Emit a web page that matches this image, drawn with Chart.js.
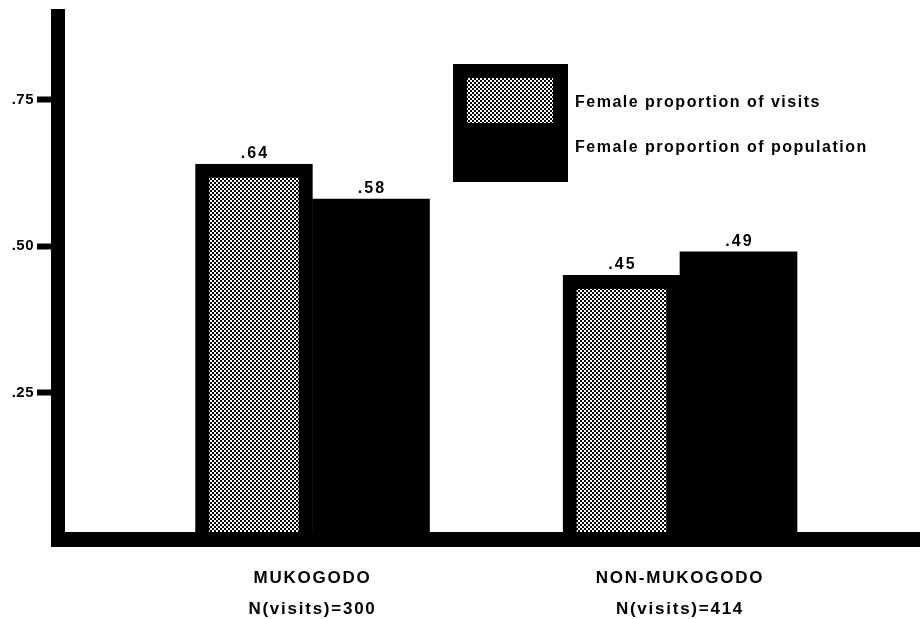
<!DOCTYPE html>
<html>
<head>
<meta charset="utf-8">
<script src="https://cdn.jsdelivr.net/npm/chart.js@4/dist/chart.umd.min.js"></script>
<style>
  html, body { margin: 0; padding: 0; background: #ffffff; }
  #wrap { width: 920px; height: 619px; position: relative; }
  canvas { display: block; }
</style>
</head>
<body>
<div id="wrap"><canvas id="chart" width="920" height="619"></canvas></div>
<script>
// ---- data ----
const categories = ['MUKOGODO', 'NON-MUKOGODO'];
const visitCounts = [300, 414];
const seriesNames = ['Female proportion of visits', 'Female proportion of population'];
const femaleVisits = [0.64, 0.45];
const femalePopulation = [0.58, 0.49];
const yTickValues = [0.25, 0.50, 0.75];

// ---- styling helpers ----
const FONT = "'Liberation Sans', Arial, Helvetica, sans-serif";

function makeStipple() {
  const c = document.createElement('canvas');
  c.width = 4; c.height = 4;
  const g = c.getContext('2d');
  g.fillStyle = '#ffffff'; g.fillRect(0, 0, 4, 4);
  g.fillStyle = '#000000'; g.fillRect(0, 0, 2, 2); g.fillRect(2, 2, 2, 2);
  return g.createPattern(c, 'repeat');
}
const stipple = makeStipple();

function fmt(v) { return v.toFixed(2).replace(/^0/, ''); }

const toPoints = (arr) => arr.map((v, i) => ({ x: i, y: v }));

const decorPlugin = {
  id: 'decor',
  beforeDraw(chart) {
    chart.ctx.letterSpacing = '0.5px';
  },
  afterDatasetsDraw(chart) {
    const ctx = chart.ctx;
    ctx.save();
    // value labels above bars
    ctx.letterSpacing = '2px';
    ctx.fillStyle = '#000';
    ctx.font = 'bold 16px ' + FONT;
    ctx.textAlign = 'center';
    ctx.textBaseline = 'middle';
    chart.data.datasets.forEach((ds, di) => {
      const meta = chart.getDatasetMeta(di);
      meta.data.forEach((el, i) => {
        ctx.fillText(fmt(ds.data[i].y), el.x + 1, el.y - 10.5);
      });
    });
    // combined legend box
    ctx.fillStyle = '#000';
    ctx.fillRect(453, 64, 115, 118);
    ctx.fillStyle = stipple;
    ctx.fillRect(467, 78, 86, 45);
    ctx.fillStyle = '#000';
    ctx.letterSpacing = '1.5px';
    ctx.font = 'bold 16px ' + FONT;
    ctx.textAlign = 'left';
    ctx.fillText(chart.data.datasets[0].label, 575, 103);
    ctx.fillText(chart.data.datasets[1].label, 575, 148);
    ctx.restore();
    // spacing for the category labels drawn after the datasets
    ctx.letterSpacing = '1.75px';
  },
  afterDraw(chart) {
    chart.ctx.letterSpacing = '0px';
  }
};

new Chart(document.getElementById('chart'), {
  type: 'bar',
  data: {
    datasets: [
      {
        label: seriesNames[0],
        data: toPoints(femaleVisits),
        backgroundColor: stipple,
        borderColor: '#000',
        borderWidth: 14,
        borderSkipped: 'start',
        barThickness: 117
      },
      {
        label: seriesNames[1],
        data: toPoints(femalePopulation),
        backgroundColor: '#000',
        borderWidth: 0,
        barThickness: 117
      }
    ]
  },
  options: {
    responsive: false,
    animation: false,
    devicePixelRatio: 1,
    layout: { padding: { top: 16, left: 0, right: 0, bottom: 0 } },
    plugins: { legend: { display: false }, tooltip: { enabled: false } },
    scales: {
      x: {
        type: 'linear',
        offset: false,
        min: -0.6925,
        max: 1.6531,
        grid: { display: false, drawTicks: false },
        border: { display: true, color: '#000', width: 15, z: 1 },
        afterBuildTicks: (ax) => { ax.ticks = categories.map((_, i) => ({ value: i })); },
        afterFit: (ax) => { ax.height = 80; },
        ticks: {
          z: 2,
          autoSkip: false,
          maxRotation: 0,
          padding: 24,
          color: '#000',
          font: { family: FONT, weight: 'bold', size: 17, lineHeight: 31 / 17 },
          callback: (v) => [categories[v], 'N(visits)=' + visitCounts[v]]
        }
      },
      y: {
        min: 0,
        max: 0.8925,
        grid: {
          display: true,
          drawOnChartArea: false,
          drawTicks: true,
          tickLength: 21,
          tickWidth: 6,
          tickColor: '#000',
          color: '#000',
          lineWidth: 1
        },
        border: { display: true, color: '#000', width: 14, z: 1 },
        afterBuildTicks: (ax) => { ax.ticks = yTickValues.map((v) => ({ value: v })); },
        afterFit: (ax) => { ax.width = 58; },
        ticks: {
          padding: 3,
          color: '#000',
          font: { family: FONT, weight: 'bold', size: 15 },
          callback: (v) => fmt(v)
        }
      }
    }
  },
  plugins: [decorPlugin]
});
</script>
</body>
</html>
